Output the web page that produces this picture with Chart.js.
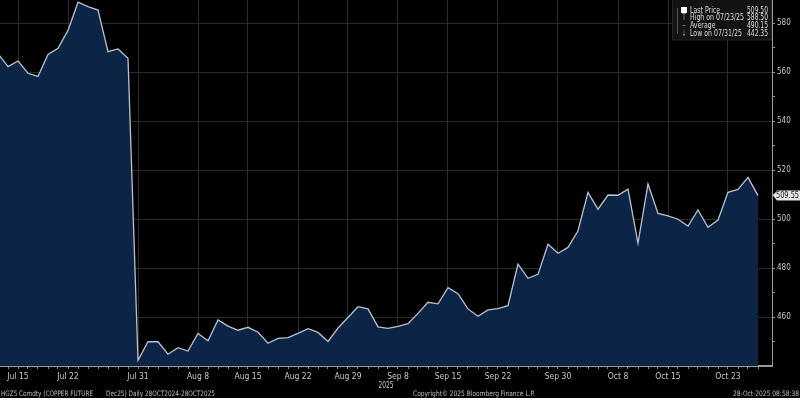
<!DOCTYPE html>
<html>
<head>
<meta charset="utf-8">
<script src="https://cdn.jsdelivr.net/npm/chart.js@4/dist/chart.umd.min.js"></script>
<style>
  html, body { margin: 0; padding: 0; background: #000; }
  #wrap { width: 800px; height: 398px; position: relative; }
</style>
</head>
<body>
<div id="wrap"><canvas id="chart" width="800" height="398"></canvas></div>
<script>
// trading days shown (Jul 11 is only partly visible at the left edge)
const dates = [
  'Jul 11', 'Jul 14', 'Jul 15', 'Jul 16', 'Jul 17', 'Jul 18', 'Jul 21', 'Jul 22', 'Jul 23', 'Jul 24',
  'Jul 25', 'Jul 28', 'Jul 29', 'Jul 30', 'Jul 31', 'Aug 1', 'Aug 4', 'Aug 5', 'Aug 6', 'Aug 7',
  'Aug 8', 'Aug 11', 'Aug 12', 'Aug 13', 'Aug 14', 'Aug 15', 'Aug 18', 'Aug 19', 'Aug 20', 'Aug 21',
  'Aug 22', 'Aug 25', 'Aug 26', 'Aug 27', 'Aug 28', 'Aug 29', 'Sep 2', 'Sep 3', 'Sep 4', 'Sep 5',
  'Sep 8', 'Sep 9', 'Sep 10', 'Sep 11', 'Sep 12', 'Sep 15', 'Sep 16', 'Sep 17', 'Sep 18', 'Sep 19',
  'Sep 22', 'Sep 23', 'Sep 24', 'Sep 25', 'Sep 26', 'Sep 29', 'Sep 30', 'Oct 1', 'Oct 2', 'Oct 3',
  'Oct 6', 'Oct 7', 'Oct 8', 'Oct 9', 'Oct 10', 'Oct 13', 'Oct 14', 'Oct 15', 'Oct 16', 'Oct 17',
  'Oct 20', 'Oct 21', 'Oct 22', 'Oct 23', 'Oct 24', 'Oct 27', 'Oct 28'
];

const prices = [
  567.5, 562.2, 564.5, 559.5, 558.2, 567.2, 569.7, 577.0, 588.5, 586.7,
  585.3, 568.3, 569.4, 565.6, 442.35, 449.9, 449.9, 444.8, 447.5, 446.1,
  453.3, 450.3, 458.8, 456.3, 454.6, 455.8, 453.8, 449.3, 451.3, 451.6,
  453.3, 455.2, 453.7, 450.0, 455.5, 459.8, 464.2, 463.3, 456.0, 455.4,
  456.2, 457.3, 461.5, 466.0, 465.4, 472.0, 469.5, 463.3, 460.3, 462.9,
  463.4, 464.6, 481.6, 475.8, 477.4, 489.7, 486.0, 488.4, 495.2, 510.9,
  504.0, 509.8, 509.7, 512.2, 490.1, 514.3, 502.3, 501.3, 499.9, 497.1,
  503.7, 496.6, 499.6, 510.9, 512.1, 517.0, 509.55
];

const dateTicks = ['Jul 15', 'Jul 22', 'Jul 31', 'Aug 8', 'Aug 15', 'Aug 22', 'Aug 29',
                   'Sep 8', 'Sep 15', 'Sep 22', 'Sep 30', 'Oct 8', 'Oct 15', 'Oct 23'];
const priceTicks = [460, 480, 500, 520, 540, 560, 580];

const legendRows = [
  ['Last Price', '509.50'],
  ['High on 07/23/25', '588.50'],
  ['Average', '490.15'],
  ['Low on 07/31/25', '442.35']
];
const lastTag = '509.55';
const yearLabel = '2025';
const footTicker = 'HGZ5 Comdty (COPPER FUTURE';
const footRange = 'Dec25) Daily 28OCT2024-28OCT2025';
const footMid = 'Copyright\u00A9 2025 Bloomberg Finance L.P.';
const footRight = '28-Oct-2025 08:58:38';

const FONT = '"Liberation Sans Narrow", "DejaVu Sans Condensed", sans-serif';
const labelIdx = dateTicks.map(d => dates.indexOf(d));

// text squeezed sideways to a given width, to get close to Bloomberg's narrow face
function fitText(ctx, txt, x, y, align, w) {
  const sx = w / ctx.measureText(txt).width;
  ctx.save();
  ctx.translate(x, y);
  ctx.scale(sx, 1);
  ctx.textAlign = align;
  ctx.fillText(txt, 0, 0);
  ctx.restore();
}

const extras = {
  id: 'extras',
  afterDraw(chart) {
    const { ctx, chartArea, scales } = chart;
    ctx.save();
    ctx.textBaseline = 'middle';

    // last price tag on the right axis
    const ty = scales.y.getPixelForValue(prices[prices.length - 1]);
    ctx.fillStyle = '#e6e6e6';
    ctx.beginPath();
    ctx.moveTo(chartArea.right + 1, ty);
    ctx.lineTo(chartArea.right + 5, ty - 5);
    ctx.lineTo(800, ty - 5);
    ctx.lineTo(800, ty + 5);
    ctx.lineTo(chartArea.right + 5, ty + 5);
    ctx.closePath();
    ctx.fill();
    ctx.fillStyle = '#111';
    ctx.font = '8px ' + FONT;
    fitText(ctx, lastTag, 799, ty + 0.5, 'right', 23);

    // legend box
    const bx = 672, bw = 99;
    ctx.fillStyle = '#131313';
    ctx.fillRect(bx, 0, bw, 40);
    ctx.strokeStyle = '#262626';
    ctx.strokeRect(bx + 0.5, -1, bw, 41);
    ctx.strokeStyle = '#555';
    ctx.beginPath();
    ctx.moveTo(677.5, 8); ctx.lineTo(677.5, 34);
    ctx.stroke();
    ctx.fillStyle = '#fff';
    ctx.fillRect(681, 7, 6, 6);
    ctx.font = '9px ' + FONT;
    const rowY = [10.5, 18, 26, 34];
    const marks = ['', 'T', '-', '\u2193'];
    legendRows.forEach((r, i) => {
      ctx.fillStyle = '#9a9a9a';
      if (marks[i]) fitText(ctx, marks[i], 684, rowY[i], 'center', 4);
      ctx.fillStyle = '#dcdcdc';
      const lw = ctx.measureText(r[0]).width * 54 / ctx.measureText(legendRows[1][0]).width;
      fitText(ctx, r[0], 690, rowY[i], 'left', lw);
      fitText(ctx, r[1], 768, rowY[i], 'right', 21);
    });

    // year under the date axis
    ctx.fillStyle = '#c8c8c8';
    ctx.font = '8.5px ' + FONT;
    fitText(ctx, yearLabel, (chartArea.left + chartArea.right) / 2, 386, 'center', 15);

    // footer
    ctx.fillStyle = '#bdbdbd';
    ctx.font = '7.5px ' + FONT;
    fitText(ctx, footTicker, 1, 394, 'left', 92);
    fitText(ctx, footRange, 106, 394, 'left', 109);
    fitText(ctx, footMid, 413, 394, 'left', 122);
    fitText(ctx, footRight, 799, 394, 'right', 66);

    ctx.restore();
  }
};

new Chart(document.getElementById('chart'), {
  type: 'line',
  data: {
    datasets: [{
      data: prices.map((p, i) => ({ x: i, y: p })),
      borderColor: '#b9c3d0',
      borderWidth: 1.3,
      backgroundColor: '#0c2445',
      fill: 'start',
      pointRadius: 0,
      tension: 0
    }]
  },
  options: {
    responsive: false,
    animation: false,
    layout: { padding: 0 },
    plugins: { legend: { display: false }, tooltip: { enabled: false } },
    scales: {
      x: {
        type: 'linear',
        min: 0.2,
        max: 77.4,
        afterBuildTicks: s => {
          const t = [];
          for (let i = 1; i < dates.length; i++) t.push({ value: i });
          s.ticks = t;
        },
        afterFit: s => { s.height = 32; s.paddingLeft = 0; s.paddingRight = 0; },
        border: { display: true, color: '#9a9a9a', width: 2 },
        grid: {
          color: c => labelIdx.includes(c.tick && c.tick.value) ? '#2b2b2b' : 'rgba(0,0,0,0)',
          tickColor: '#8a8a8a',
          tickLength: 3,
          lineWidth: 1
        },
        ticks: {
          autoSkip: false,
          maxRotation: 0,
          padding: 3,
          color: '#c8c8c8',
          font: { size: 8.5, family: FONT },
          callback: v => labelIdx.includes(v) ? dates[v] : ''
        }
      },
      y: {
        position: 'right',
        min: 440,
        max: 589.4,
        afterBuildTicks: s => {
          const t = [];
          for (let v = 450; v <= 580; v += 10) t.push({ value: v });
          s.ticks = t;
        },
        afterFit: s => { s.width = 28; s.paddingTop = 0; s.paddingBottom = 0; },
        border: { display: true, color: '#9a9a9a', width: 1 },
        grid: {
          color: c => priceTicks.includes(c.tick && c.tick.value) ? '#2b2b2b' : 'rgba(0,0,0,0)',
          tickColor: '#9a9a9a',
          tickLength: 3,
          lineWidth: 1
        },
        ticks: {
          padding: 2,
          color: '#c8c8c8',
          font: { size: 8, family: FONT },
          callback: v => priceTicks.includes(v) ? String(v) : ''
        }
      }
    }
  },
  plugins: [extras]
});
</script>
</body>
</html>
